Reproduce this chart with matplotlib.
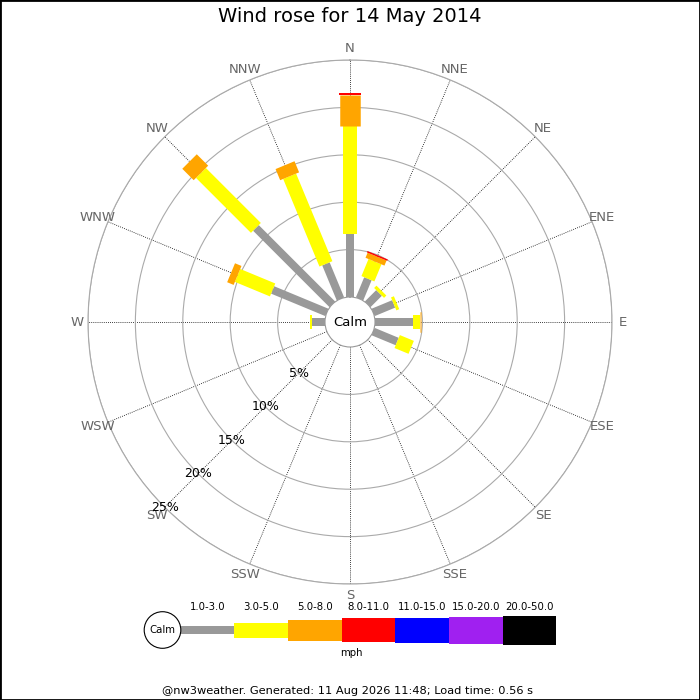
import numpy as np
import matplotlib
matplotlib.use("Agg")
import matplotlib.pyplot as plt
from matplotlib.patches import Circle, Rectangle

# wind directions (compass, clockwise from N)
directions = ['N', 'NNE', 'NE', 'ENE', 'E', 'ESE', 'SE', 'SSE',
              'S', 'SSW', 'SW', 'WSW', 'W', 'WNW', 'NW', 'NNW']
angles = np.arange(16) * 22.5

speed_bins = ['1.0-3.0', '3.0-5.0', '5.0-8.0', '8.0-11.0',
              '11.0-15.0', '15.0-20.0', '20.0-50.0']

# percent of time per direction for each speed class (mph)
pct_1_3 = [6.65, 2.3, 1.7, 2.35, 4.0, 2.75, 0, 0, 0, 0, 0, 0, 1.4, 6.2, 11.4, 4.0]
pct_3_5 = [11.4, 1.95, 0.35, 0.33, 0.7, 1.6, 0, 0, 0, 0, 0, 0, 0.15, 4.0, 8.2, 10.0]
pct_5_8 = [3.27, 0.58, 0, 0, 0.2, 0, 0, 0, 0, 0, 0, 0, 0, 0.74, 1.7, 1.27]
pct_8_11 = [0.15, 0.15, 0, 0, 0, 0, 0, 0, 0, 0, 0, 0, 0, 0, 0, 0]
pct_11_15 = [0] * 16
pct_15_20 = [0] * 16
pct_20_50 = [0] * 16

ring_pcts = [5, 10, 15, 20, 25]

# styles
colors = ['#999999', '#ffff00', '#ffa500', '#ff0000', '#0000ff', '#a020f0', '#000000']
bar_px = [8, 14, 20.5, 22, 24, 26, 28]
key_px = [8, 15, 21, 24, 25, 27, 29]


def main():
    series = [pct_1_3, pct_3_5, pct_5_8, pct_8_11, pct_11_15, pct_15_20, pct_20_50]

    fig = plt.figure(figsize=(7, 7), dpi=100)

    # polar rose: centre (350, 322) px, outer ring 262 px, calm circle 25 px
    ax = fig.add_axes([0.1257, 0.1657, 0.7486, 0.7486], projection='polar')
    ax.set_theta_zero_location('N')
    ax.set_theta_direction(-1)
    ax.set_ylim(0, 25)
    ax.set_rorigin(-2.637)

    ax.set_thetagrids(angles, labels=[''] * 16)
    ax.set_rgrids(ring_pcts, labels=[''] * len(ring_pcts))
    ax.tick_params(length=0)
    ax.xaxis.grid(True, color='black', linestyle=(0, (1, 1.5)), linewidth=0.6)
    ax.yaxis.grid(True, color='#aaaaaa', linestyle='-', linewidth=0.8)
    ax.spines['polar'].set_color('#aaaaaa')
    ax.spines['polar'].set_linewidth(0.8)
    ax.spines['inner'].set_color('#999999')
    ax.spines['inner'].set_linewidth(0.8)

    for i, ang in enumerate(angles):
        th = np.deg2rad(ang)
        cum = 0.0
        for k, vals in enumerate(series):
            v = vals[i]
            if v <= 0:
                continue
            ax.plot([th, th], [cum, cum + v], color=colors[k],
                    linewidth=bar_px[k] * 0.72, solid_capstyle='butt', zorder=3)
            cum += v

    for ang, name in zip(angles, directions):
        ax.text(np.deg2rad(ang), 26.16, name, ha='center', va='center',
                fontsize=9.5, color='#666666', clip_on=False)

    for r in ring_pcts:
        ax.text(np.deg2rad(225), r, '%d%%' % r, ha='center', va='center',
                fontsize=9, color='black', clip_on=False, zorder=4)

    ax.text(0.5, 0.5, 'Calm', transform=ax.transAxes, ha='center', va='center',
            fontsize=9.5, color='black')

    # key along the bottom, in pixel coordinates
    lax = fig.add_axes([0, 0, 1, 1], facecolor='none')
    lax.set_xlim(0, 700)
    lax.set_ylim(700, 0)
    lax.axis('off')

    seg_w = 53.7
    x0 = 180.5
    centers = x0 + seg_w * (np.arange(len(speed_bins)) + 0.5)
    heights = np.array(key_px)
    lax.bar(centers, heights, bottom=630 - heights / 2, width=seg_w,
            color=colors, linewidth=0)
    for cx, lab in zip(centers, speed_bins):
        lax.text(cx, 607, lab, ha='center', va='center', fontsize=7.3)
    lax.add_patch(Circle((162.5, 630), 18.3, facecolor='white',
                         edgecolor='black', linewidth=0.8))
    lax.text(162.5, 630, 'Calm', ha='center', va='center', fontsize=7.3)
    lax.text(351, 653, 'mph', ha='center', va='center', fontsize=7.3)

    lax.text(348, 691, '@nw3weather. Generated: 11 Aug 2026 11:48; Load time: 0.56 s',
             ha='center', va='center', fontsize=8.2)

    fig.suptitle('Wind rose for 14 May 2014', y=1 - 17 / 700, va='center',
                 fontsize=14)

    fig.patches.append(Rectangle((0, 0), 1, 1, transform=fig.transFigure,
                                 fill=False, edgecolor='black', linewidth=2))

    fig.savefig('out.png', dpi=100)


if __name__ == "__main__":
    main()
